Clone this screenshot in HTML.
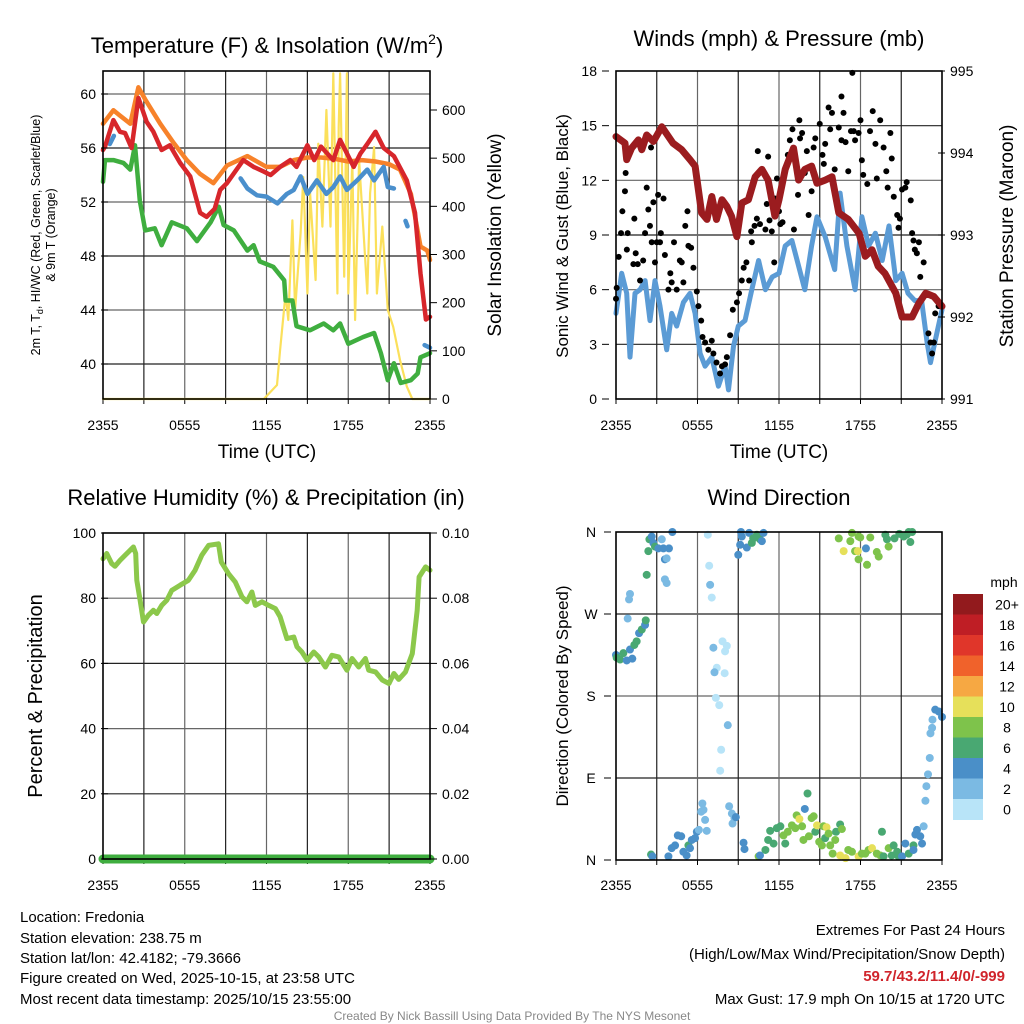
<!DOCTYPE html>
<html><head><meta charset="utf-8"><title>Mesonet Meteogram</title>
<style>
html,body{margin:0;padding:0;background:#fff;}
svg{display:block;font-family:"Liberation Sans",Arial,sans-serif;}
</style></head>
<body>
<svg id="chart" width="1024" height="1024" viewBox="0 0 1024 1024" xmlns="http://www.w3.org/2000/svg">
<rect width="1024" height="1024" fill="#fff"/>
<g id="g1"></g>
<g id="g2"></g>
<g id="g3"></g>
<g id="g4"></g>
<g fill="#000">
<text x="267" y="53" font-size="22" text-anchor="middle">Temperature (F) &amp; Insolation (W/m<tspan font-size="14" dy="-9">2</tspan><tspan dy="9">)</tspan></text>
<text x="779" y="46" font-size="22" text-anchor="middle">Winds (mph) &amp; Pressure (mb)</text>
<text x="266" y="505" font-size="22" text-anchor="middle">Relative Humidity (%) &amp; Precipitation (in)</text>
<text x="779" y="505" font-size="22" text-anchor="middle">Wind Direction</text>
<text x="267" y="458" font-size="19" text-anchor="middle">Time (UTC)</text>
<text x="779" y="458" font-size="19" text-anchor="middle">Time (UTC)</text>
<g font-size="12.5" text-anchor="middle">
<text transform="translate(40,235) rotate(-90)">2m T, T<tspan font-size="9" dy="3">d</tspan><tspan dy="-3">, HI/WC (Red, Green, Scarlet/Blue)</tspan></text>
<text transform="translate(55,235) rotate(-90)">&amp; 9m T (Orange)</text>
</g>
<text transform="translate(501,235) rotate(-90)" font-size="19" text-anchor="middle">Solar Insolation (Yellow)</text>
<text transform="translate(568,236) rotate(-90)" font-size="17" text-anchor="middle">Sonic Wind &amp; Gust (Blue, Black)</text>
<text transform="translate(1013,236) rotate(-90)" font-size="19" text-anchor="middle">Station Pressure (Maroon)</text>
<text transform="translate(42,696) rotate(-90)" font-size="20" text-anchor="middle">Percent &amp; Precipitation</text>
<text transform="translate(568,696) rotate(-90)" font-size="17" text-anchor="middle">Direction (Colored By Speed)</text>
</g>
<g font-size="15" fill="#000">
<text x="20" y="922">Location: Fredonia</text>
<text x="20" y="943">Station elevation: 238.75 m</text>
<text x="20" y="963">Station lat/lon: 42.4182; -79.3666</text>
<text x="20" y="983">Figure created on Wed, 2025-10-15, at 23:58 UTC</text>
<text x="20" y="1004">Most recent data timestamp: 2025/10/15 23:55:00</text>
</g>
<g font-size="15" fill="#000" text-anchor="end">
<text x="1005" y="935">Extremes For Past 24 Hours</text>
<text x="1005" y="959">(High/Low/Max Wind/Precipitation/Snow Depth)</text>
<text x="1005" y="981" fill="#d0242b" font-weight="bold">59.7/43.2/11.4/0/-999</text>
<text x="1005" y="1004">Max Gust: 17.9 mph On 10/15 at 1720 UTC</text>
</g>
<text x="512" y="1020" font-size="12" fill="#888" text-anchor="middle">Created By Nick Bassill Using Data Provided By The NYS Mesonet</text>
</svg>
<script>
// ---------- data ----------
const timeTicks = ["2355","0555","1155","1755","2355"];
const tempTicks = [40,44,48,52,56,60];
const solarTicks = [0,100,200,300,400,500,600];
const windTicks = [0,3,6,9,12,15,18];
const presTicks = [991,992,993,994,995];
const rhTicks = [0,20,40,60,80,100];
const precipTicks = ["0.00","0.02","0.04","0.06","0.08","0.10"];
const dirTicks = ["N","E","S","W","N"];
const speedBins = ["0","2","4","6","8","10","12","14","16","18","20+"];
const speedColors = ["#b8e4f8","#7bbae3","#4a8fc8","#49a872","#7ec34b","#e6e05a","#f6a843","#f0622b","#e0362a","#bf1e25","#921a1d"];

const tempT = [0,0.15,0.76,1.25,1.62,2.1,2.6,3.2,3.7,4.3,4.9,5.66,6.4,7.13,7.6,8.2,8.6,9.1,10.3,11.05,11.8,12.3,13.0,13.75,14.2,15.0,15.5,16.0,16.9,17.4,18.4,18.9,19.4,20.0,20.6,21.35,22.3,22.9,23.3,23.7,24];
const tempV = [55.85,56.1,58.07,57.2,57.1,56.0,59.7,57.95,57.2,55.85,56.2,54.9,53.9,51.2,50.9,51.5,52.9,53.4,55.1,54.6,54.25,54.0,54.6,55.1,54.6,56.2,55.1,56.1,55.1,56.6,54.6,55.6,56.3,57.2,56.0,55.4,53.6,51.2,46.7,43.3,43.5];
const t9T = [0,0.76,1.25,2.0,2.6,3.1,4.2,5.2,6.15,7.1,8.1,9.1,10.6,12.0,13.0,14.0,15,16,17,18,19,20,21.0,21.8,22.6,23.3,23.8,24];
const t9V = [57.8,58.8,58.4,57.8,60.5,59.6,57.8,56.35,55.1,54.1,53.4,54.7,55.4,54.6,54.6,55.1,55.3,55.3,55.2,55.0,55.1,55.0,54.8,54.4,52.6,48.7,48.4,47.7];
const dewT = [0,0.15,0.76,1.5,2.0,2.35,2.7,3.1,3.8,4.3,5.05,6.15,6.9,7.9,8.5,8.85,9.6,10.6,11.05,11.5,12.5,13.3,13.4,13.9,14.2,15.2,16.2,16.9,17.4,18.0,19.1,19.9,20.4,20.9,21.35,21.85,22.6,23.1,23.3,24];
const dewV = [53.5,55.1,55.1,54.9,54.4,56.2,52.1,49.9,50.05,48.8,50.5,50.05,49.1,50.5,51.65,50.3,49.9,48.4,48.8,47.6,47.2,46.2,44.7,44.7,42.8,42.5,43.0,42.5,43.0,41.5,42.0,42.3,40.8,38.8,40.05,38.6,38.8,39.3,40.5,40.8];
const hiT = [0.5,0.65,0.8,null,10.1,10.6,11.3,12.0,12.8,13.5,14.0,14.5,15.0,15.7,16.4,16.9,17.4,17.9,18.65,19.4,19.9,20.6,20.9,21.35,null,22.2,22.35,null,23.6,24];
const hiV = [56.3,56.6,56.9,null,53.75,53.0,52.5,52.4,51.9,52.6,52.9,53.9,52.6,53.6,52.6,53.1,53.9,52.9,53.6,54.4,53.6,54.6,53.1,53.0,null,50.6,50.2,null,41.4,41.2];
const solT = [0,11.8,12.77,13.0,13.4,13.6,13.9,14.1,14.5,14.7,15.0,15.2,15.6,15.8,16.1,16.4,16.7,16.9,17.2,17.3,17.4,17.7,17.9,18.0,18.3,18.5,18.8,19.1,19.4,19.6,19.9,20.1,20.5,20.9,21.3,21.8,22.3,22.7,24];
const solV = [0,0,29,102,219,164,371,185,344,461,219,427,247,530,358,600,358,676,219,565,676,254,676,219,496,164,496,358,219,427,523,219,358,185,150,81,26,0,0];

const presT = [0,0.66,0.79,1.15,1.65,1.9,2.26,2.75,3.37,4.2,4.84,5.45,5.82,6.3,6.7,7.05,7.4,7.8,8.16,8.5,8.9,9.26,9.75,10.25,10.74,11.2,11.7,12.0,12.46,13.07,13.44,13.9,14.4,14.8,15.4,15.9,16.4,17.1,17.9,18.35,18.85,19.3,19.8,20.6,21.06,21.8,22.3,22.8,23.4,24];
const presV = [994.2,994.12,993.92,994.06,994.16,994.04,994.22,994.14,994.32,994.12,994.04,993.92,993.84,993.27,993.19,993.47,993.19,993.43,993.35,993.23,992.98,993.39,993.43,993.71,993.8,993.67,993.23,993.43,993.8,994.06,993.67,993.8,993.84,993.63,993.67,993.71,993.27,993.19,993.02,992.74,992.82,992.62,992.53,992.29,992.0,992.0,992.17,992.29,992.25,992.13];
const windT = [0,0.42,0.79,1.03,1.4,1.77,2.14,2.5,2.87,3.24,3.73,4.1,4.47,4.96,5.45,5.82,6.19,6.56,7.05,7.54,8.03,8.28,8.65,9.0,9.5,10.0,10.5,11.0,11.5,12.0,12.46,12.95,13.44,13.9,14.4,14.8,15.4,15.9,16.1,16.5,17.0,17.6,18.1,18.6,19.1,19.6,20.1,20.6,21.06,21.5,22.0,22.5,22.9,23.15,23.5,24];
const windV = [4.7,6.9,5.8,2.3,5.8,6.0,6.5,4.3,6.5,5.1,2.7,4.7,4.0,5.3,5.8,4.7,2.5,1.8,2.3,0.7,1.8,0.5,2.9,4.0,4.3,6.0,7.6,6.0,6.7,6.9,8.4,8.7,7.3,6.0,8.4,10.0,8.9,7.6,7.1,11.3,8.4,6.0,10.0,8.4,9.1,7.6,9.5,6.5,6.9,5.8,5.4,5.4,3.1,2.0,3.2,4.9];
const gustT = [0,0.05,0.37,0.2,0.47,0.66,0.71,0.86,0.8,1.35,1.45,1.28,1.6,1.77,2.0,2.14,2.26,2.38,2.5,2.63,2.75,2.87,3.0,3.1,3.24,2.58,3.3,3.5,3.6,3.86,4.0,4.1,4.27,4.47,4.7,4.84,4.96,5.1,5.26,5.33,5.53,5.7,5.95,6.07,6.27,6.37,6.56,6.8,7.05,7.17,7.4,7.66,7.8,8.03,8.16,8.4,8.6,8.9,9.06,9.26,9.4,9.6,9.8,10.0,9.95,10.2,10.37,10.44,10.6,11.0,11.1,11.2,11.3,11.47,11.65,11.7,11.85,12.0,12.1,12.26,12.65,12.8,12.99,13.1,13.4,13.5,13.55,13.7,13.9,14.05,14.18,14.4,14.55,14.67,15.0,15.2,15.3,15.4,15.65,15.77,15.9,16.1,16.4,16.6,16.6,16.75,16.9,17.1,17.3,17.4,17.5,17.6,17.86,18.0,18.1,18.2,18.5,18.7,18.9,19.1,19.2,19.45,19.7,19.9,20.0,20.2,20.3,20.45,20.7,20.8,20.9,21.06,21.3,21.4,21.7,21.8,21.9,22.0,22.15,22.3,22.4,22.65,22.8,23.0,23.15,23.27,23.4,23.5,23.75];
const gustV = [5.5,6.1,9.1,7.8,10.3,11.4,12.4,9.1,8.2,9.9,8.0,7.4,7.4,6.5,7.6,9.1,11.6,10.4,9.5,8.6,10.8,7.5,8.6,11.2,8.6,13.8,9.1,11.0,7.9,6.0,6.9,6.4,8.6,6.0,7.6,7.5,6.4,9.5,10.3,8.4,8.3,7.2,5.9,5.1,4.3,3.4,3.1,2.7,3.2,2.5,2.0,1.4,1.8,1.9,2.3,3.5,4.9,5.3,5.8,6.5,7.2,7.5,6.5,8.6,9.2,9.5,9.9,13.6,9.6,9.3,10.7,13.3,9.8,9.2,7.5,11.0,12.1,10.3,9.6,9.7,13.4,14.2,14.8,9.3,11.2,15.3,14.3,14.6,12.4,13.6,10.1,11.4,13.8,14.3,15.1,13.4,12.9,14.0,16.0,14.8,15.7,12.6,14.9,14.2,16.6,15.7,14.1,12.5,14.7,17.9,14.7,14.2,14.6,15.3,13.1,12.3,11.8,14.7,15.8,14.0,12.1,15.3,13.8,12.5,11.6,14.6,13.2,11.1,10.1,9.4,9.9,11.5,11.6,11.9,10.9,9.1,8.7,8.2,8.0,8.6,6.7,7.5,5.8,3.6,3.1,2.5,3.1,4.7,5.1];

const rhT = [0,0.27,0.64,0.88,1.25,1.62,1.99,2.23,2.4,2.48,2.72,2.97,3.33,3.7,3.95,4.31,4.68,5.05,5.66,6.27,6.76,7.25,7.75,8.48,8.68,9.22,9.7,10.2,10.56,10.93,11.18,11.67,12.16,12.65,13.0,13.5,14.0,14.24,14.6,14.98,15.47,15.83,16.32,16.8,17.3,17.9,18.28,18.77,19.26,19.5,20.0,20.5,20.98,21.35,21.7,22.2,22.7,23.06,23.2,23.68,24];
const rhV = [92.1,93.7,90.6,89.8,91.6,93.2,94.7,95.7,93.7,85.5,79.4,72.7,74.8,76.3,75.3,77.8,79.4,82.4,84.0,85.5,88.6,93.2,96.2,96.7,91.1,87.5,85.0,80.4,78.9,81.9,77.8,78.9,77.8,76.8,74.3,67.6,68.1,65.1,63.5,61.0,63.5,62.0,58.9,62.5,62.0,57.9,61.5,58.9,61.5,57.9,57.4,54.9,53.8,56.9,55.1,57.4,63.0,76.3,86.5,89.6,88.6];
const precipT = [0,24];
const precipV = [0,0];

const dirT = [0,0.05,0.3,0.54,0.79,1.2,1.03,1.35,1.52,1.7,1.9,2.14,2.19,0.86,0.96,1.03,2.26,2.38,2.46,2.63,2.75,2.87,3.12,3.37,3.49,3.6,3.73,3.9,4.15,3.6,3.73,
6.76,6.86,6.93,7.05,7.17,7.84,8.03,8.16,7.42,7.25,8.0,7.35,7.6,8.23,7.74,7.67,
9.0,9.14,9.26,9.63,9.8,10.1,10.37,10.6,10.86,10.0,9.2,10.74,
2.58,2.68,3.86,4.1,4.35,4.55,4.8,4.96,5.2,5.33,5.45,5.58,5.82,5.95,6.1,6.27,6.36,6.56,6.44,6.68,8.33,8.53,8.72,8.58,8.82,9.39,9.46,
10.5,10.6,11.0,11.2,11.35,11.6,11.84,12.1,12.33,12.46,12.65,12.95,13.2,13.3,13.5,13.7,13.8,13.9,14.1,14.2,14.4,14.55,14.67,14.8,14.96,15.16,15.28,15.4,15.5,15.65,15.77,15.95,16.14,16.2,16.5,16.63,16.5,16.9,17.1,17.37,17.86,18.1,18.35,18.6,18.85,19.2,19.46,19.58,19.7,20.07,20.3,20.44,20.7,20.8,21.06,21.3,21.55,21.9,21.9,22.16,22.04,22.4,22.53,22.65,22.78,22.85,22.97,23.1,23.15,23.27,23.3,23.5,23.76,24.0,
16.4,16.76,17.37,17.86,17.25,17.6,17.8,17.98,18.4,17.86,18.48,18.72,19.2,19.34,19.83,19.95,20.07,20.5,20.86,21.18,21.55,21.67,21.8,21.4];
const dirV = [225,222,220,227,219,221,231,236,240,249,253,258,263,265,286,292,313,339,352,355,348,344,342,352,342,330,331,342,360,308,304,
357,323,302,288,233,240,229,235,211,206,205,178,170,148,121,98,
335,346,355,343,359,353,357,352,359,348,360,350,
6,4,4,13,16,27,26,9,5,16,13,22,24,31,33,53,62,44,55,32,59,51,46,40,47,19,12,
4,5,11,22,32,18,35,37,27,18,31,38,35,49,45,37,22,56,73,26,46,48,31,38,20,16,37,24,36,29,16,7,22,31,39,34,5,2,11,9,4,7,7,11,13,7,5,31,4,13,5,16,9,4,4,18,7,16,11,33,28,26,18,37,65,81,94,112,139,145,154,165,163,157,
353,339,359,355,350,339,339,354,342,330,324,354,338,333,357,352,344,353,358,355,360,349,360,357];
const dirS = [5,7,7,7,5,5,5,7,7,5,7,5,7,3,3,3,7,7,7,5,5,7,5,3,5,5,3,5,5,3,3,
1,1,3,1,3,1,1,1,1,3,1,1,1,3,1,1,
5,5,5,5,5,7,7,7,5,7,5,5,
7,5,5,5,5,5,5,5,5,7,5,5,5,5,3,3,3,3,3,3,3,3,3,3,5,5,5,
9,5,7,7,7,7,7,7,9,7,9,9,9,9,11,9,9,5,7,9,9,9,7,11,9,9,9,7,11,9,9,9,9,7,7,9,11,11,9,9,11,9,9,9,11,9,9,7,7,9,7,7,7,7,5,5,7,7,5,5,5,5,5,3,3,3,3,3,3,3,3,5,5,5,
9,11,9,9,9,9,11,9,5,9,9,9,9,9,7,7,9,7,7,7,7,7,7,7];

// ---------- helpers ----------
const NS = "http://www.w3.org/2000/svg";
function mk(parent, tag, attrs, text){
  const e = document.createElementNS(NS, tag);
  for (const k in attrs) e.setAttribute(k, attrs[k]);
  if (text !== undefined) e.textContent = text;
  parent.appendChild(e);
  return e;
}
function linScale(d0,d1,r0,r1){ return v => r0 + (v-d0)/(d1-d0)*(r1-r0); }

function frame(g, L, R, T, B, hLines, vCount, name){
  const grid = mk(g,'g',{});
  
  
  hLines.forEach((y,i)=>{ mk(grid,'line',{x1:L,x2:R,y1:y,y2:y,stroke:i%2?'#666':'#222','stroke-width':1.2}); });
  for(let i=1;i<vCount;i++){ const x=L+(R-L)*i/vCount; mk(grid,'line',{x1:x,x2:x,y1:T,y2:B,stroke:i%2?'#222':'#666','stroke-width':1.2}); }
  for(let i=0;i<=vCount;i++){ const x=L+(R-L)*i/vCount; mk(grid,'line',{x1:x,x2:x,y1:B,y2:B+5,stroke:'#000','stroke-width':1}); }
}
function border(g,L,R,T,B,name){
  const r = mk(g,'rect',{x:L,y:T,width:R-L,height:B-T,fill:'none',stroke:'#000','stroke-width':1.6});
  
  
}
function xLabels(g,L,R,y,name){
  const lg = mk(g,'g',{'font-size':14,'text-anchor':'middle'});
  
  
  timeTicks.forEach((t,i)=>{ mk(lg,'text',{x:L+(R-L)*i/(timeTicks.length-1),y:y,transform:''},t); });
}
function yTickLabels(g, ticks, sy, x, anchor, name, side){
  const lg = mk(g,'g',{'font-size':14,'text-anchor':anchor});
  
  
  ticks.forEach(v=>{
    const y = sy(parseFloat(v));
    mk(lg,'text',{x:x,y:y+5},String(v));
    const ax = side==='L' ? x+5 : x-12;
    mk(lg,'line',{x1:ax,x2:ax+7,y1:y,y2:y,stroke:'#000','stroke-width':1});
  });
}
function pathFrom(ts, vs, sx, sy){
  let d='', pen=false;
  for(let i=0;i<ts.length;i++){
    if(ts[i]===null || vs[i]===null){ pen=false; continue; }
    d += (pen?'L':'M') + sx(ts[i]).toFixed(1)+','+sy(vs[i]).toFixed(1);
    pen=true;
  }
  return d;
}
function line(g, ts, vs, sx, sy, color, w, name){
  const p = mk(g,'path',{d:pathFrom(ts,vs,sx,sy),fill:'none',stroke:color,'stroke-width':w,'stroke-linejoin':'round','stroke-linecap':'round'});
  
  
}

// ---------- Panel 1 : temperature ----------
(function(){
  const g = document.getElementById('g1');
  const L=103,R=430,T=71,B=399;
  const sx = linScale(0,24,L,R);
  const sy = linScale(60,40,94,364);
  const ss = linScale(0,600,399,110);
  frame(g,L,R,T,B,tempTicks.map(sy),8,'temperature');
  line(g,solT,solV,sx,ss,'#fbe05b',2.2,'solar-line');
  line(g,t9T,t9V,sx,sy,'#f7822a',4.5,'9m-temperature-line');
  line(g,dewT,dewV,sx,sy,'#3fae3f',4.5,'dewpoint-line');
  line(g,hiT,hiV,sx,sy,'#4a8fcc',4.5,'heat-index-line');
  line(g,tempT,tempV,sx,sy,'#d7262b',4.5,'temperature-line');
  border(g,L,R,T,B,'temperature');
  yTickLabels(g,tempTicks,sy,96,'end','temp-y-tick-labels','L');
  yTickLabels(g,solarTicks,ss,442,'start','solar-y-tick-labels','R');
  xLabels(g,L,R,430,'temperature');
})();

// ---------- Panel 2 : winds ----------
(function(){
  const g = document.getElementById('g2');
  const L=616,R=942,T=71,B=399;
  const sx = linScale(0,24,L,R);
  const sy = linScale(0,18,399,71);
  const sp = linScale(991,995,399,71);
  frame(g,L,R,T,B,windTicks.slice(1,6).map(sy),8,'winds');
  line(g,windT,windV,sx,sy,'#5b9bd5',5,'sonic-wind-line');
  const gg = mk(g,'g',{});
  
  
  gustT.forEach((t,i)=>{
    const c = mk(gg,'circle',{cx:sx(t),cy:sy(gustV[i]),r:3,fill:'#000'});
    
    
  });
  line(g,presT,presV,sx,sp,'#9b1c1f',7,'pressure-line');
  border(g,L,R,T,B,'winds');
  yTickLabels(g,windTicks,sy,597,'end','wind-y-tick-labels','L');
  yTickLabels(g,presTicks,sp,950,'start','pressure-y-tick-labels','R');
  xLabels(g,L,R,430,'winds');
})();

// ---------- Panel 3 : humidity ----------
(function(){
  const g = document.getElementById('g3');
  const L=103,R=430,T=533,B=859;
  const sx = linScale(0,24,L,R);
  const sy = linScale(0,100,B,T);
  const sp = linScale(0,0.1,B,T);
  frame(g,L,R,T,B,rhTicks.slice(1,5).map(sy),8,'humidity');
  line(g,rhT,rhV,sx,sy,'#8cc84b',5,'humidity-line');
  line(g,precipT,precipV,sx,sp,'#3fae3f',9,'precipitation-line');
  border(g,L,R,T,B,'humidity');
  yTickLabels(g,rhTicks,sy,96,'end','humidity-y-tick-labels','L');
  yTickLabels(g,precipTicks,sp,442,'start','precip-y-tick-labels','R');
  xLabels(g,L,R,890,'humidity');
})();

// ---------- Panel 4 : wind direction ----------
(function(){
  const g = document.getElementById('g4');
  const L=616,R=942,T=532,B=860;
  const sx = linScale(0,24,L,R);
  const sy = linScale(0,360,B,T);
  frame(g,L,R,T,B,[90,180,270].map(sy),8,'direction');
  const pg = mk(g,'g',{});
  
  
  dirT.forEach((t,i)=>{
    const bin = Math.min(10, Math.floor(dirS[i]/2));
    const c = mk(pg,'circle',{cx:sx(t),cy:sy(dirV[i]),r:4,fill:speedColors[bin]});
    
    
  });
  border(g,L,R,T,B,'direction');
  const lg = mk(g,'g',{'font-size':14,'text-anchor':'middle'});
  
  
  dirTicks.forEach((d,i)=>{ const y=sy(i*90); mk(lg,'text',{x:591,y:y+5},d); mk(lg,'line',{x1:604,x2:611,y1:y,y2:y,stroke:'#000'}); });
  xLabels(g,L,R,890,'direction');
  // colorbar
  const cb = mk(g,'g',{});
  
  
  const top=594, h=20.5;
  mk(cb,'text',{x:1004,y:587,'font-size':14,'text-anchor':'middle'},'mph');
  for(let i=0;i<speedBins.length;i++){
    const idx = speedBins.length-1-i;
    const r = mk(cb,'rect',{x:953,y:top+i*h,width:30,height:h+0.5,fill:speedColors[idx]});
    
    
    mk(cb,'text',{x:1007,y:top+i*h+h/2+5,'font-size':14,'text-anchor':'middle'},speedBins[idx]);
  }
})();
</script>
</body></html>
